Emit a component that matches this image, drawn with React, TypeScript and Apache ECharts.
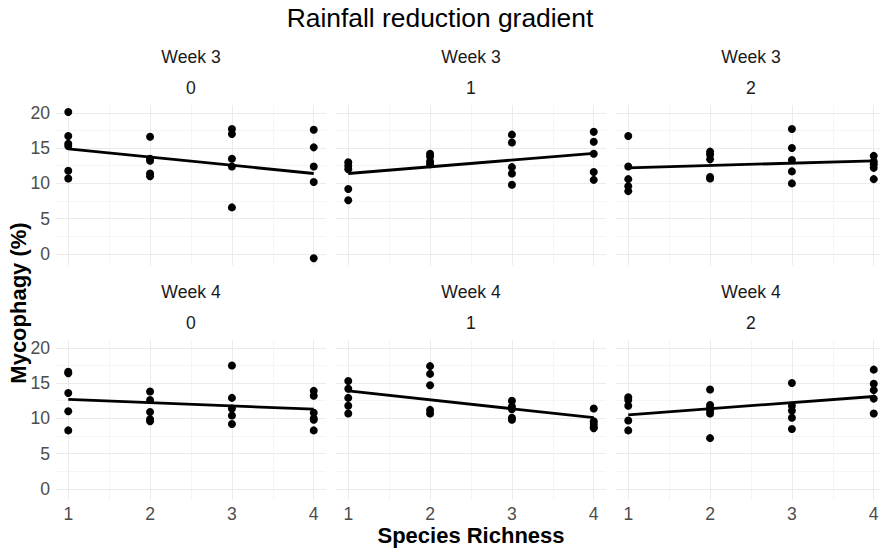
import React, { useEffect, useRef } from "react";
import * as echarts from "echarts";

const chartTitle = "Rainfall reduction gradient";
const xTitle = "Species Richness";
const yTitle = "Mycophagy (%)";
const weeks = ["Week 3", "Week 4"];
const gradients = ["0", "1", "2"];
const richness = [1, 2, 3, 4];
const yTicks = [0, 5, 10, 15, 20];
const yMinor = [2.5, 7.5, 12.5, 17.5];
const xMinor = [1.5, 2.5, 3.5];

// values per richness level (1..4) for each panel
const w3g0 = [[20.1, 16.7, 15.6, 15.3, 11.8, 10.7], [16.6, 13.5, 13.2, 11.4, 11.0], [17.7, 17.0, 13.5, 12.4, 6.6], [17.6, 15.1, 12.4, 10.2, -0.6]];
const w3g1 = [[13.0, 12.5, 12.0, 9.2, 7.6], [14.2, 13.8, 13.1, 12.7], [16.9, 15.8, 12.3, 11.4, 9.8], [17.3, 15.9, 14.2, 11.6, 10.5]];
const w3g2 = [[16.7, 12.4, 10.6, 9.6, 8.9], [14.5, 14.1, 13.4, 10.9, 10.7], [17.7, 15.0, 13.3, 11.7, 10.0], [13.9, 13.1, 12.7, 12.2, 10.6]];
const w4g0 = [[16.6, 16.4, 13.6, 11.0, 8.3], [13.8, 12.6, 10.9, 9.9, 9.6], [17.5, 12.9, 11.4, 10.4, 9.2], [13.9, 13.2, 10.8, 10.0, 9.8, 8.3]];
const w4g1 = [[15.3, 14.2, 12.9, 11.8, 10.7], [17.4, 16.3, 14.7, 11.2, 10.7], [12.5, 11.7, 11.3, 10.1, 9.8], [11.4, 9.6, 9.2, 8.8, 8.6]];
const w4g2 = [[13.0, 12.6, 11.8, 9.7, 8.3], [14.1, 11.9, 11.5, 11.1, 10.7, 7.2], [15.0, 11.8, 11.1, 10.1, 8.5], [16.9, 14.9, 14.0, 12.8, 10.7]];
const fitStart = [14.9, 11.4, 12.2, 12.7, 13.9, 10.5];
const fitEnd = [11.4, 14.25, 13.2, 11.3, 10.1, 13.1];

const panels = [w3g0, w3g1, w3g2, w4g0, w4g1, w4g2];

const FONT = "Liberation Sans";

export default function App() {
  const ref = useRef<HTMLDivElement>(null);
  useEffect(() => {
    if (!ref.current) return;
    const chart = echarts.init(ref.current, null, { renderer: "svg" });
    const grids: any[] = [];
    const xAxes: any[] = [];
    const yAxes: any[] = [];
    const series: any[] = [];
    const graphics: any[] = [];
    const panelW = 270;
    const panelH = 160.3;
    const lefts = [56, 336, 616];
    const tops = [105, 340];

    panels.forEach((panel, i) => {
      const row = Math.floor(i / 3);
      const col = i % 3;
      grids.push({ left: lefts[col], top: tops[row], width: panelW, height: panelH, containLabel: false, outerBoundsMode: "none" });
      xAxes.push({
        gridIndex: i, type: "value", min: 0.85, max: 4.15,
        axisLine: { show: false }, axisTick: { show: false }, splitLine: { show: false },
        axisLabel: { show: row === 1, customValues: richness, margin: 5, color: "#4D4D4D", fontSize: 17.6, fontFamily: FONT },
      });
      yAxes.push({
        gridIndex: i, type: "value", min: -1.6, max: 21.1,
        axisLine: { show: false }, axisTick: { show: false }, splitLine: { show: false },
        axisLabel: { show: col === 0, customValues: yTicks, margin: 6, color: "#4D4D4D", fontSize: 17.6, fontFamily: FONT },
      });
      const major = { color: "#EBEBEB", width: 1, type: "solid" };
      const minor = { color: "#EBEBEB", width: 0.5, type: "solid" };
      const ml: any[] = [];
      yMinor.forEach((v) => ml.push({ yAxis: v, lineStyle: minor }));
      xMinor.forEach((v) => ml.push({ xAxis: v, lineStyle: minor }));
      yTicks.forEach((v) => ml.push({ yAxis: v, lineStyle: major }));
      richness.forEach((v) => ml.push({ xAxis: v, lineStyle: major }));
      series.push({
        type: "line", xAxisIndex: i, yAxisIndex: i, z: 0, silent: true,
        data: [[1, fitStart[i]], [4, fitEnd[i]]],
        symbol: "none", lineStyle: { opacity: 0 },
        markLine: { z: 0, silent: true, symbol: ["none", "none"], label: { show: false }, emphasis: { disabled: true }, data: ml, animation: false },
      });
      const pts: number[][] = [];
      panel.forEach((vals, k) => vals.forEach((v) => pts.push([richness[k], v])));
      series.push({
        type: "scatter", xAxisIndex: i, yAxisIndex: i, z: 3, silent: true,
        data: pts, symbol: "circle", symbolSize: 8, itemStyle: { color: "#000", opacity: 1 },
      });
      series.push({
        type: "line", xAxisIndex: i, yAxisIndex: i, z: 4, silent: true,
        data: [[1, fitStart[i]], [4, fitEnd[i]]],
        symbol: "none", lineStyle: { color: "#000", width: 2.8 },
      });
      const cx = lefts[col] + panelW / 2;
      graphics.push({ type: "text", x: cx, y: tops[row] - 48, style: { text: weeks[row], fill: "#1A1A1A", font: `17.6px '${FONT}'`, textAlign: "center", textVerticalAlign: "middle" } });
      graphics.push({ type: "text", x: cx, y: tops[row] - 17, style: { text: gradients[col], fill: "#1A1A1A", font: `17.6px '${FONT}'`, textAlign: "center", textVerticalAlign: "middle" } });
    });

    graphics.push({ type: "text", x: 440, y: 18, style: { text: chartTitle, fill: "#000", font: `26.4px '${FONT}'`, textAlign: "center", textVerticalAlign: "middle" } });
    graphics.push({ type: "text", x: 471, y: 535, style: { text: xTitle, fill: "#000", font: `bold 22px '${FONT}'`, textAlign: "center", textVerticalAlign: "middle" } });
    graphics.push({ type: "text", x: 18, y: 303, rotation: Math.PI / 2, style: { text: yTitle, fill: "#000", font: `bold 22px '${FONT}'`, textAlign: "center", textVerticalAlign: "middle" } });

    chart.setOption({
      animation: false,
      backgroundColor: "#fff",
      grid: grids,
      xAxis: xAxes,
      yAxis: yAxes,
      series,
      graphic: graphics,
    });
    return () => chart.dispose();
  }, []);
  return (
    <div style={{ width: 880, height: 548, position: "absolute", left: 0, top: 0, overflow: "hidden", background: "#fff" }}>
      <div ref={ref} style={{ width: 900, height: 548 }} />
    </div>
  );
}
